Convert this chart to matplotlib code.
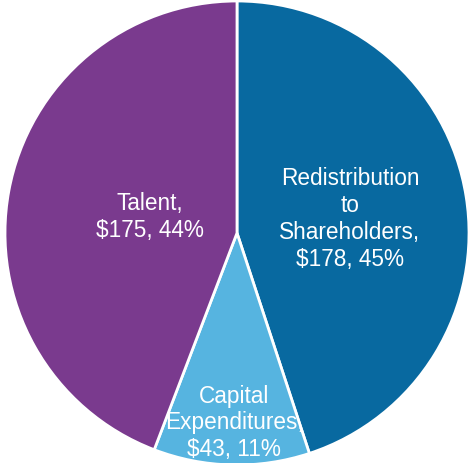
import matplotlib
matplotlib.use('Agg')
import matplotlib.pyplot as plt

# Datos del gráfico
categorias = ['Redistribution\nto\nShareholders', 'Capital\nExpenditures', 'Talent']
valores = [178, 43, 175]
porcentajes = [45, 11, 44]
colores = ['#0869A0', '#56B4E0', '#7A3A8E']

plt.rcParams['font.family'] = ['Liberation Sans', 'DejaVu Sans']

fig = plt.figure(figsize=(4.70, 4.64), dpi=100)
ax = fig.add_axes([0, 0, 1, 1])

# pie en coordenadas de pixel
cx, cy, r = 237, 464 - 234, 232
wedges, _ = ax.pie(valores, colors=colores, startangle=90, counterclock=False,
                   center=(cx, cy), radius=r, frame=True,
                   wedgeprops=dict(edgecolor='white', linewidth=2))
ax.set_xlim(0, 470)
ax.set_ylim(0, 464)
ax.set_aspect('equal')
ax.axis('off')

# posiciones de etiquetas (pixeles desde arriba)
posiciones = [(350, 219), (234, 423), (150, 217)]
for cat, val, pct, (x, y) in zip(categorias, valores, porcentajes, posiciones):
    ax.text(x, 464 - y, f'{cat},\n${val}, {pct}%', ha='center', va='center',
            color='white', fontsize=16.3, linespacing=1.22)

fig.savefig('out.png', dpi=100)
